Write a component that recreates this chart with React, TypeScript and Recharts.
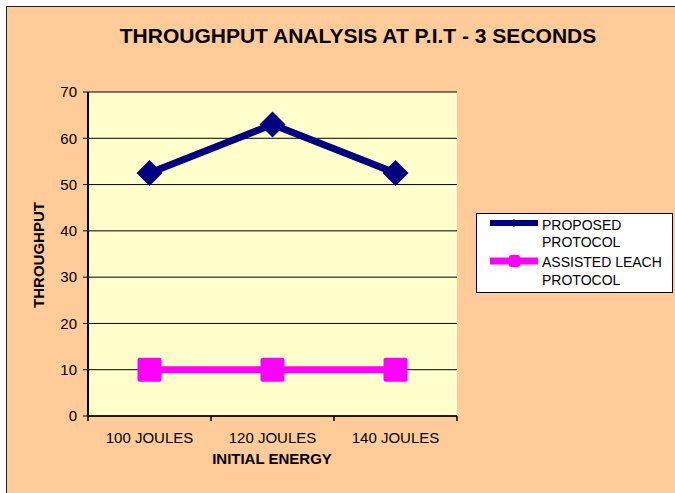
import React from 'react';
import {
  LineChart,
  Line,
  XAxis,
  YAxis,
  CartesianGrid,
  Legend
} from 'recharts';

const categories = ['100 JOULES', '120 JOULES', '140 JOULES'];
const proposedProtocol = [52.5, 63, 52.5];
const assistedLeach = [10, 10, 10];
const yTicks = [0, 10, 20, 30, 40, 50, 60, 70];

const FONT = 'Arial, "Liberation Sans", sans-serif';

// category centres sit on half steps so the tick marks land on the boundaries
const data = categories.map((name, i) => ({
  x: i + 0.5,
  name,
  proposed: proposedProtocol[i],
  assisted: assistedLeach[i]
}));

const XTick = (props: any) => {
  const { x, y, payload } = props;
  const v = payload.value as number;
  if (Number.isInteger(v)) {
    return <line x1={x} x2={x} y1={y - 5} y2={y} stroke="#000" strokeWidth={1.5} />;
  }
  return (
    <text x={x} y={y + 22} textAnchor="middle" fontSize={15} fontFamily={FONT} fill="#000">
      {categories[Math.floor(v)]}
    </text>
  );
};

const DIAMOND_R = 13;
const SQUARE_HALF = 12;

const Diamond = (props: any) => {
  const { cx, cy } = props;
  if (cx == null || cy == null) return null;
  const r = DIAMOND_R;
  return (
    <polygon
      points={`${cx},${cy - r} ${cx + r},${cy} ${cx},${cy + r} ${cx - r},${cy}`}
      fill="#000080"
    />
  );
};

const Square = (props: any) => {
  const { cx, cy } = props;
  if (cx == null || cy == null) return null;
  const s = SQUARE_HALF;
  return <rect x={cx - s} y={cy - s} width={s * 2} height={s * 2} rx={2} fill="#FF00FF" />;
};

const LegendBox = () => (
  <svg width={197} height={80} style={{ display: 'block' }}>
    <rect x={0.5} y={0.5} width={196} height={79} fill="#fff" stroke="#000" />
    <line x1={14} x2={62} y1={10} y2={10} stroke="#000080" strokeWidth={6} />
    <polygon points="38,6 42,10 38,14 34,10" fill="#000080" />
    <text x={66} y={17} fontSize={14} fontFamily={FONT} fill="#000">PROPOSED</text>
    <text x={66} y={34} fontSize={14} fontFamily={FONT} fill="#000">PROTOCOL</text>
    <line x1={14} x2={62} y1={48} y2={48} stroke="#FF00FF" strokeWidth={7} />
    <rect x={33} y={42} width={11} height={12} rx={2} fill="#FF00FF" />
    <text x={66} y={54} fontSize={14} fontFamily={FONT} fill="#000">ASSISTED LEACH</text>
    <text x={66} y={72} fontSize={14} fontFamily={FONT} fill="#000">PROTOCOL</text>
  </svg>
);

export default function App() {
  return (
    <div style={{ position: 'absolute', left: 0, top: 0, width: 675, height: 493, background: '#fff', overflow: 'hidden', fontFamily: FONT }}>
      <div
        style={{
          position: 'absolute',
          left: 6,
          top: 6,
          width: 680,
          height: 500,
          background: '#FFCC99',
          borderTop: '1px solid #222',
          borderLeft: '1px solid #222'
        }}
      />
      <div style={{ position: 'absolute', left: 0, top: 24, width: 716, textAlign: 'center', fontSize: 21, fontWeight: 'bold', color: '#000' }}>
        THROUGHPUT ANALYSIS AT P.I.T - 3 SECONDS
      </div>
      <div
        style={{
          position: 'absolute',
          left: 38,
          top: 255,
          transform: 'translate(-50%, -50%) rotate(-90deg)',
          fontSize: 15,
          fontWeight: 'bold',
          whiteSpace: 'nowrap',
          color: '#000'
        }}
      >
        THROUGHPUT
      </div>
      <div style={{ position: 'absolute', left: 172, top: 450, width: 200, textAlign: 'center', fontSize: 15, fontWeight: 'bold', color: '#000' }}>
        INITIAL ENERGY
      </div>
      <div style={{ position: 'absolute', left: 0, top: 0 }}>
        <LineChart
          width={675}
          height={493}
          data={data}
          margin={{ top: 92, right: 218, left: 0, bottom: 47 }}
        >
          <CartesianGrid horizontal vertical={false} stroke="#000" fill="#FFFFCC" fillOpacity={1} />
          <XAxis
            dataKey="x"
            type="number"
            domain={[0, 3]}
            ticks={[0, 0.5, 1, 1.5, 2, 2.5, 3]}
            interval={0}
            height={30}
            tickSize={5}
            tickMargin={0}
            tickLine={false}
            axisLine={{ stroke: '#000', strokeWidth: 1.5 }}
            tick={<XTick />}
          />
          <XAxis
            xAxisId="top"
            orientation="top"
            type="number"
            domain={[0, 3]}
            height={0}
            tick={false}
            tickLine={false}
            axisLine={{ stroke: '#808080', strokeWidth: 3 }}
          />
          <YAxis
            domain={[0, 70]}
            ticks={yTicks}
            interval={0}
            width={88}
            tickSize={5}
            tickMargin={6}
            tickLine={{ stroke: '#000' }}
            axisLine={{ stroke: '#000', strokeWidth: 2 }}
            tick={{ fontSize: 15, fill: '#000', fontFamily: FONT }}
          />
          <YAxis
            yAxisId="right"
            orientation="right"
            domain={[0, 70]}
            width={0}
            tick={false}
            tickLine={false}
            axisLine={{ stroke: '#808080', strokeWidth: 3 }}
          />
          <Legend
            layout="horizontal"
            verticalAlign="middle"
            align="center"
            content={() => <LegendBox />}
            wrapperStyle={{ left: 476, top: 213, width: 197, height: 80 }}
          />
          <Line
            dataKey="proposed"
            stroke="#000080"
            strokeWidth={7}
            dot={<Diamond />}
            activeDot={false}
            isAnimationActive={false}
          />
          <Line
            dataKey="assisted"
            stroke="#FF00FF"
            strokeWidth={7}
            dot={<Square />}
            activeDot={false}
            isAnimationActive={false}
          />
        </LineChart>
      </div>
    </div>
  );
}
